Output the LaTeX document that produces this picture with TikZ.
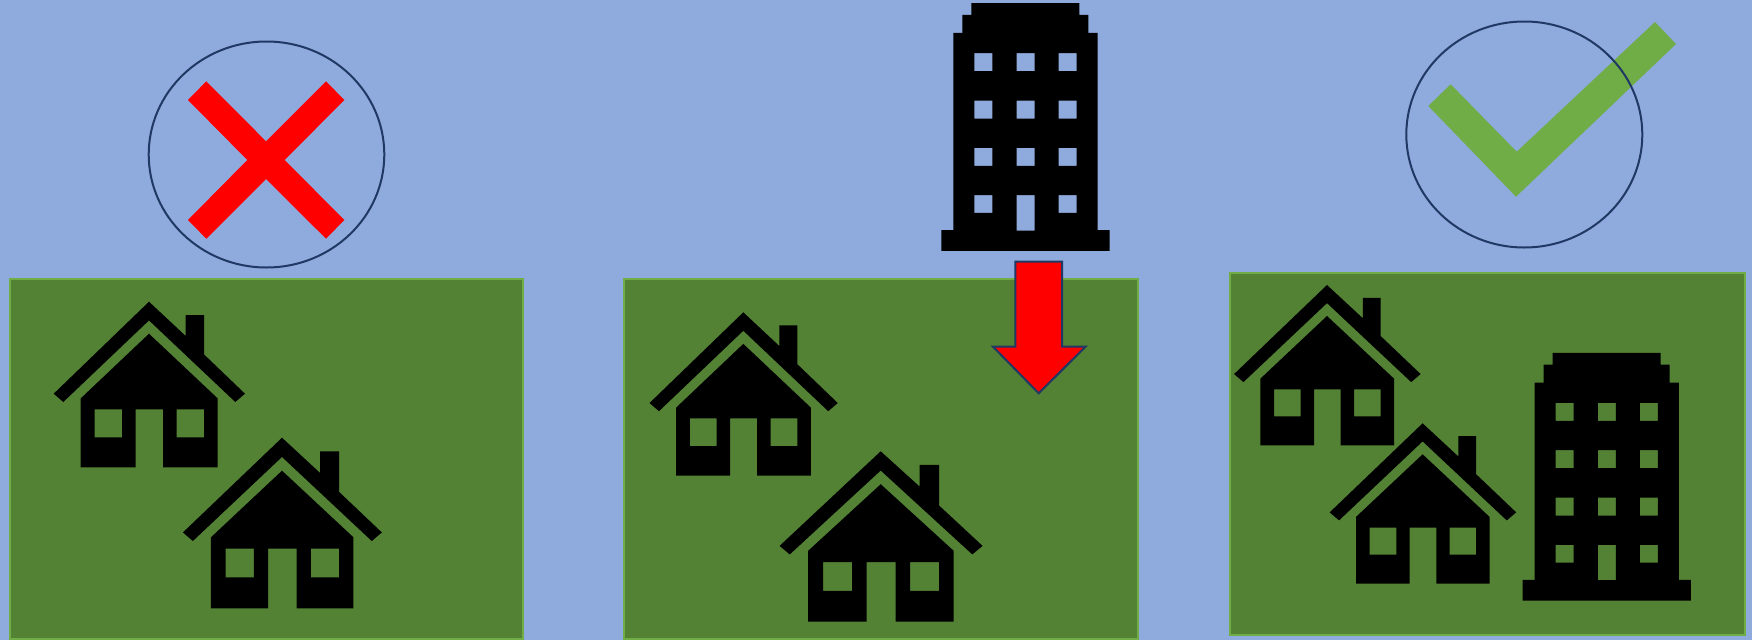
\documentclass[tikz,border=0pt]{standalone}
\definecolor{skyback}{HTML}{8FAADC}
\definecolor{fieldgreen}{HTML}{548235}
\definecolor{fieldedge}{HTML}{70AD47}
\definecolor{navyline}{HTML}{203864}
\tikzset{
  field/.style={fill=fieldgreen,draw=fieldedge,line width=2pt},
  ring/.style={draw=navyline,line width=2pt},
  icon/.style={fill=black,even odd rule},
  house/.pic={
    \path[icon] (0,0) -- (36.7,34.3) -- (36.7,13.3) -- (55,13.3) -- (55,52.7) -- (96,92) -- (86.3,100.3)
      -- (0,18.7) -- (-85.7,100.3) -- (-95.3,92) -- cycle;
    \path[icon] (0,32) -- (68.7,96.7) -- (68.7,165.7) -- (14,165.7) -- (14,107.7) -- (-13.3,107.7)
      -- (-13.3,165.7) -- (-68.3,165.7) -- (-68.3,96.7) -- cycle
      (-54.3,107.7) rectangle (-27,135.7)
      (27.7,107.7) rectangle (55,135.7);
  },
  tower/.pic={
    \path[icon] (-54,0) -- (54,0) -- (54,11.7) -- (63,11.7) -- (63,29.7) -- (72.3,29.7) -- (72.3,227)
      -- (84.3,227) -- (84.3,247.7) -- (-84,247.7) -- (-84,227) -- (-72,227) -- (-72,29.7) -- (-63,29.7)
      -- (-63,11.7) -- (-54,11.7) -- cycle
      (-51,50) rectangle (-33,68) (-8.7,50) rectangle (9.3,68) (33.3,50) rectangle (51.3,68)
      (-51,97.3) rectangle (-33,115.3) (-8.7,97.3) rectangle (9.3,115.3) (33.3,97.3) rectangle (51.3,115.3)
      (-51,144.7) rectangle (-33,162.7) (-8.7,144.7) rectangle (9.3,162.7) (33.3,144.7) rectangle (51.3,162.7)
      (-51,192) rectangle (-33,209.7) (-8.7,192) rectangle (9.3,227.3) (33.3,192) rectangle (51.3,209.7);
  }
}
\begin{document}
\begin{tikzpicture}[x=1pt,y=-1pt]
\useasboundingbox (0,0) rectangle (1752,640);
\fill[skyback] (0,0) rectangle (1752,640);
% fields
\path[field] (9.5,278.5) rectangle (523,639);
\path[field] (623.5,278.5) rectangle (1137.5,639);
\path[field] (1229.5,272.5) rectangle (1744.5,634.5);
% houses
\pic[xscale=1,yscale=1] at (149,301.7) {house};
\pic[xscale=1.04,yscale=1.03] at (282,437.7) {house};
\pic[xscale=.984,yscale=.986] at (743.3,312.3) {house};
\pic[xscale=1.061,yscale=1.028] at (880.7,451.3) {house};
\pic[xscale=.975,yscale=.968] at (1327,285) {house};
\pic[xscale=.975,yscale=.968] at (1422.6,423.3) {house};
% towers
\pic at (1025.3,3.2) {tower};
\pic at (1606.5,352.8) {tower};
% cross
\fill[red] (206.3,81.3) -- (266,141.3) -- (326,81.3) -- (344.3,100) -- (284.7,160) -- (344.3,220)
  -- (326,238.7) -- (266,179) -- (206.3,238.7) -- (188,220) -- (247.3,160) -- (188,100) -- cycle;
\path[ring] (266.5,154.5) ellipse [x radius=117.8,y radius=113];
% check
\fill[fieldedge] (1655,22) -- (1676,44) -- (1516,196.7) -- (1428.3,106) -- (1450.7,84.3) -- (1516.7,151.7) -- cycle;
\path[ring] (1524.3,134.5) ellipse [x radius=118,y radius=113];
% arrow
\filldraw[fill=red,draw=navyline,line width=2pt] (1015.3,261.5) -- (1062,261.5) -- (1062,346.7) -- (1085.5,346.7)
  -- (1038.7,393.3) -- (993,346.7) -- (1015.3,346.7) -- cycle;
\end{tikzpicture}
\end{document}
